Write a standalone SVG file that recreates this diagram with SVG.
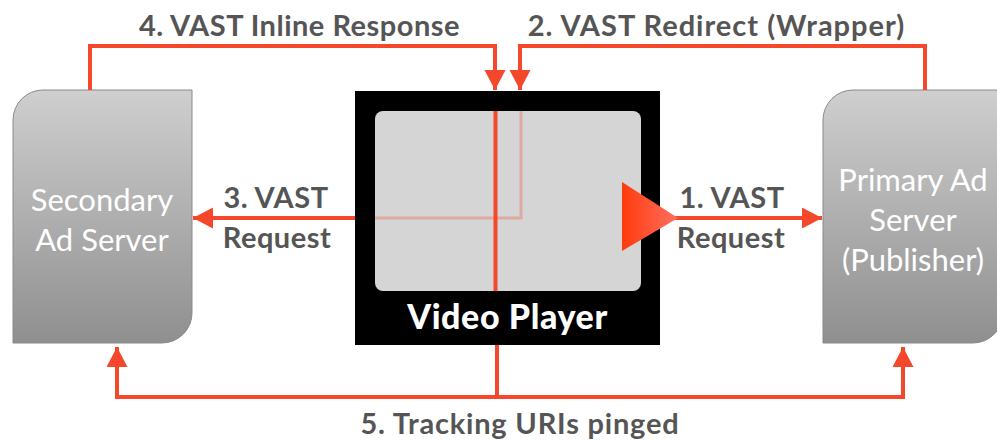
<svg xmlns="http://www.w3.org/2000/svg" width="997" height="441" viewBox="0 0 997 441">
<style>
.c{fill:none;stroke:#f4472c;stroke-width:4}
.f{fill:none;stroke:#f4472c;stroke-width:3;opacity:.3}
.l{font-family:"Lato","Liberation Sans",sans-serif;font-weight:700;font-size:29px;letter-spacing:.5px;fill:#555;text-anchor:middle}
.s{font-family:"Lato","Liberation Sans",sans-serif;font-size:31px;fill:#fff;text-anchor:middle}
.srv{fill:url(#g);stroke:#8a8a8a;stroke-width:1}
</style>
<defs>
<linearGradient id="g" x1="0" y1="0" x2="0" y2="1"><stop offset="0" stop-color="#cfcfcf"/><stop offset="1" stop-color="#8f8f8f"/></linearGradient>
<linearGradient id="t" x1="0" y1="0" x2="1" y2="0"><stop offset="0" stop-color="#ff3a0c"/><stop offset="1" stop-color="#ff7060"/></linearGradient>
<marker id="a" markerUnits="userSpaceOnUse" markerWidth="22" markerHeight="22" refX="20" refY="10.5" orient="auto"><path d="M0 0L20 10.5L0 21Z" fill="#f4472c"/></marker>
</defs>
<rect width="997" height="441" fill="#fff"/>
<g id="secondary-server">
<path class="srv" d="M43 90H192V313A30 30 0 0 1 162 343H13V120A30 30 0 0 1 43 90Z"/>
<text class="s" x="102" y="211">Secondary</text>
<text class="s" x="102" y="251">Ad Server</text>
</g>
<g id="primary-server">
<path class="srv" d="M853 90H1003V313A30 30 0 0 1 973 343H823V120A30 30 0 0 1 853 90Z"/>
<text class="s" x="913" y="191">Primary Ad</text>
<text class="s" x="913" y="231">Server</text>
<text class="s" x="913" y="271">(Publisher)</text>
</g>
<g id="video-player">
<rect x="355" y="91" width="305" height="254" fill="#000"/>
<rect x="375" y="111" width="266" height="180" rx="8" fill="#d5d5d5"/>
<text x="507.500" y="329" font-family="Lato,'Liberation Sans',sans-serif" font-weight="900" font-size="34" letter-spacing=".6" fill="#fff" text-anchor="middle">Video Player</text>
</g>
<g id="connectors">
<path class="c" d="M90 90V46H495V90" marker-end="url(#a)"/>
<path class="c" d="M925 90V46H520V90" marker-end="url(#a)"/>
<path class="c" d="M355 218H193" marker-end="url(#a)"/>
<path class="c" d="M660 218H822" marker-end="url(#a)"/>
<path class="c" d="M497 345V397H117V347" marker-end="url(#a)"/>
<path class="c" d="M497 397H903V347" marker-end="url(#a)"/>
<path class="c" d="M495.500 111V291"/>
<path class="f" d="M521 111V218H375"/>
</g>
<g id="play-button">
<path d="M622 182L678 218L622 251Z" fill="url(#t)"/>
</g>
<g id="labels">
<text class="l" x="299.500" y="36">4. VAST Inline Response</text>
<text class="l" x="716.500" y="36" style="letter-spacing:1px">2. VAST Redirect (Wrapper)</text>
<text class="l" x="276" y="208">3. VAST</text>
<text class="l" x="277" y="248">Request</text>
<text class="l" x="732" y="208">1. VAST</text>
<text class="l" x="731" y="248">Request</text>
<text class="l" x="520" y="434" style="letter-spacing:.8px">5. Tracking URIs pinged</text>
</g>
</svg>
